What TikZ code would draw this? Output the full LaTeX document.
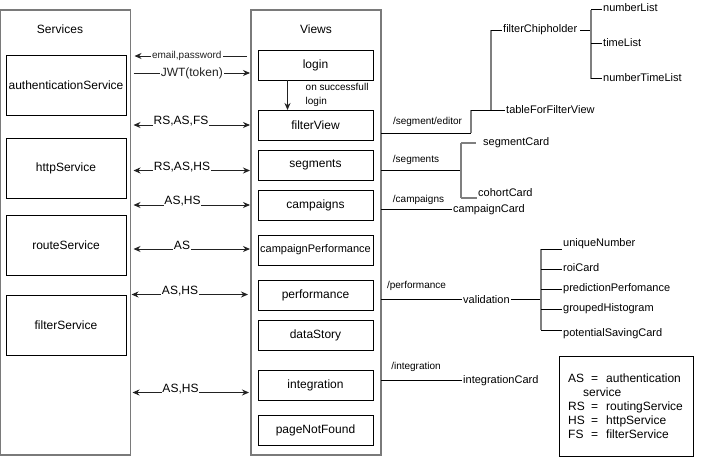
\documentclass[tikz,border=0pt]{standalone}
\usepackage{fontspec}
\setmainfont{Liberation Sans}
\usetikzlibrary{arrows.meta}
\newcommand\myfs[1]{\fontsize{#1}{#1}\selectfont}
\definecolor{outergray}{HTML}{7A7A7A}
\definecolor{treegray}{HTML}{7F7F7F}
\definecolor{arrgray}{HTML}{222222}
\begin{document}
\begin{tikzpicture}[x=1pt,y=-1pt,
  outerbox/.style={draw=outergray, line width=1.3pt, inner sep=0pt, outer sep=0pt},
  svcbox/.style={draw, line width=0.9pt, minimum width=120, minimum height=60, inner sep=0pt, outer sep=0pt, font=\myfs{12}},
  viewbox/.style={draw, line width=0.9pt, minimum width=115, minimum height=30, inner sep=0pt, outer sep=0pt, font=\myfs{12}},
  title/.style={font=\myfs{12}, inner sep=0pt},
  arr/.style={arrgray, line width=0.9pt, -{Stealth[length=7pt,width=6pt]}},
  darr/.style={arrgray, line width=0.9pt, {Stealth[length=7pt,width=6pt]}-{Stealth[length=7pt,width=6pt]}},
  elab/.style={font=\myfs{12}, fill=white, inner sep=1pt},
  slab/.style={font=\myfs{10}, fill=white, inner sep=1pt},
  rlab/.style={font=\myfs{10}, inner sep=1pt},
  leaf/.style={font=\myfs{11}, inner sep=1pt, anchor=west},
  hline/.style={black, line width=0.9pt},
  tree/.style={treegray, line width=1.5pt},
  legtxt/.style={font=\myfs{12}, inner sep=0pt, anchor=base west}
]
\useasboundingbox (0,0) rectangle (706,458);

% outer boxes
\node[outerbox, minimum width=130, minimum height=445] (services) at (65.5,232.5) {};
\node[title] (servicesT) at (60,29.5) {Services};
\node[outerbox, minimum width=130, minimum height=445] (views) at (316,232.5) {};
\node[title] (viewsT) at (316,29.5) {Views};

% services
\node[svcbox] (auth) at (66,85) {authenticationService};
\node[svcbox] (http) at (66,168) {httpService};
\node[svcbox] (route) at (66,245) {routeService};
\node[svcbox] (filter) at (66,325) {filterService};

% views
\node[viewbox] (login) at (315.5,65) {login};
\node[viewbox] (filterView) at (315.5,125) {filterView};
\node[viewbox] (segments) at (315.5,165) {segments};
\node[viewbox] (campaigns) at (315.5,205) {campaigns};
\node[viewbox, font=\myfs{11}] (campPerf) at (315.5,250) {campaignPerformance};
\node[viewbox] (performance) at (315.5,295) {performance};
\node[viewbox] (dataStory) at (315.5,335) {dataStory};
\node[viewbox] (integration) at (315.5,385) {integration};
\node[viewbox] (pageNotFound) at (315.5,430) {pageNotFound};

% service <-> view arrows
\draw[arr] ([xshift=-4]views.west |- 0,56) -- ([xshift=4]services.east |- 0,56)
  node[slab, pos=0.535] (lEmail) {email,password};
\draw[arr] ([xshift=3]services.east |- 0,73) -- ([xshift=-1]views.west |- 0,73)
  node[elab, pos=0.5] (lJWT) {JWT(token)};
\draw[darr] ([xshift=3]services.east |- 0,125) -- ([xshift=-1]views.west |- 0,125);
\node[elab, inner sep=0.5pt] (lRSASFS) at (181,121.5) {RS,AS,FS};
\draw[darr] ([xshift=3]services.east |- 0,170.5) -- ([xshift=-1]views.west |- 0,170.5);
\node[elab, inner sep=0.5pt] (lRSASHS) at (182,167) {RS,AS,HS};
\draw[darr] ([xshift=3]services.east |- 0,205) -- ([xshift=-1]views.west |- 0,205);
\node[elab, inner sep=0.5pt] (lASHS1) at (182.5,201.5) {AS,HS};
\draw[darr] ([xshift=3]services.east |- 0,249) -- ([xshift=-1]views.west |- 0,249);
\node[elab, inner sep=0.5pt] (lAS) at (182,245.5) {AS};
\draw[darr] ([xshift=1]services.east |- 0,294.5) -- ([xshift=-3]views.west |- 0,294.5);
\node[elab, inner sep=0.5pt] (lASHS2) at (180,291) {AS,HS};
\draw[darr] ([xshift=2]services.east |- 0,392.5) -- ([xshift=-2]views.west |- 0,392.5);
\node[elab, inner sep=0.5pt] (lASHS3) at (180.5,389.5) {AS,HS};

% login -> filterView
\draw[arr] (login.south -| 287.5,0) -- (filterView.north -| 287.5,0);
\node[rlab, anchor=north west, align=left, font={\fontsize{10}{13.5}\selectfont}] (lSucc) at (304.5,82.5) {on successfull\\login};

% /segment/editor branch
\coordinate (fvA) at (471,133);
\coordinate (fvB) at (471,110);
\coordinate (fcTop) at (491,30);
\coordinate (fcBot) at (491,110);
\draw[hline] (views.east |- fvA) -- (fvA);
\draw[tree] (fvA) -- (fvB);
\draw[hline] (fvB) -- (fcBot);
\node[rlab] (lSegEd) at (427.5,121.5) {/segment/editor};
\draw[tree] (fcTop) -- (fcBot);
\node[leaf] (filterChip) at (502,30) {filterChipholder};
\node[leaf] (tableFV) at (505,110) {tableForFilterView};
\draw[hline] (fcTop) -- (filterChip.west);
\draw[hline] (fcBot) -- (tableFV.west);
\coordinate (nlTop) at (591,9.5);
\coordinate (nlMid) at (591,43);
\coordinate (nlBot) at (591,78.5);
\draw[hline] (filterChip.east) ++(2,0) -- (nlTop |- filterChip.east);
\draw[tree] (nlTop) -- (nlBot);
\node[leaf] (numberList) at (602,8) {numberList};
\node[leaf] (timeList) at (602,43) {timeList};
\node[leaf] (numberTimeList) at (602,77.5) {numberTimeList};
\draw[hline] (nlTop) -- (numberList.west |- nlTop);
\draw[hline] (nlMid) -- (timeList.west |- nlMid);
\draw[hline] (nlBot) -- (numberTimeList.west |- nlBot);

% /segments branch
\coordinate (sgJ) at (461,170.5);
\coordinate (sgTop) at (461,143);
\coordinate (sgBot) at (461,198);
\draw[hline] (views.east |- sgJ) -- (sgJ);
\node[rlab] (lSegs) at (416,159.5) {/segments};
\draw[tree] (sgTop) -- (sgBot);
\node[leaf] (segmentCard) at (482,143) {segmentCard};
\node[leaf] (cohortCard) at (477,193) {cohortCard};
\draw[tree] (sgTop) -- ++(15,0);
\draw[tree] (sgBot) -- ++(16,0);

% /campaigns branch
\node[leaf] (campaignCard) at (452,209.5) {campaignCard};
\draw[hline] (views.east |- campaignCard.west) -- (campaignCard.west);
\node[rlab] (lCamps) at (418.5,200) {/campaigns};

% /performance branch
\node[leaf] (validation) at (462,299.3) {validation};
\draw[hline] (views.east |- validation.west) -- (validation.west);
\node[rlab] (lPerf) at (416.5,285.5) {/performance};
\coordinate (pfTop) at (541,249);
\coordinate (pfBot) at (541,330);
\draw[hline] (validation.east) -- (pfTop |- validation.east);
\draw[tree] (pfTop) -- (pfBot);
\node[leaf] (uniqueNumber) at (562,244) {uniqueNumber};
\node[leaf] (roiCard) at (562,268) {roiCard};
\node[leaf] (predPerf) at (562,289) {predictionPerfomance};
\node[leaf] (groupedHist) at (562,308.5) {groupedHistogram};
\node[leaf] (potSaving) at (562,333.5) {potentialSavingCard};
\draw[hline] (pfTop) -- (562,249);
\draw[hline] (541,269) -- (roiCard.west |- 0,269);
\draw[hline] (541,289) -- (predPerf.west |- 0,289);
\draw[hline] (541,309.5) -- (groupedHist.west |- 0,309.5);
\draw[hline] (pfBot) -- (potSaving.west |- pfBot);

% /integration branch
\node[leaf] (integrationCard) at (462,380.5) {integrationCard};
\draw[hline] (views.east |- integrationCard.west) -- (integrationCard.west);
\node[rlab] (lInt) at (416,366.5) {/integration};

% legend
\node[draw, line width=0.9pt, minimum width=134, minimum height=100, inner sep=0pt] (legend) at (626,406.5) {};
\node[legtxt] (leg1) at (568,382.5) {\makebox[23pt][l]{AS}\makebox[15pt][l]{=}authentication};
\node[legtxt] (leg2) at (583,396.5) {service};
\node[legtxt] (leg3) at (568,410.5) {\makebox[23pt][l]{RS}\makebox[15pt][l]{=}routingService};
\node[legtxt] (leg4) at (568,424.5) {\makebox[23pt][l]{HS}\makebox[15pt][l]{=}httpService};
\node[legtxt] (leg5) at (568,438.5) {\makebox[23pt][l]{FS}\makebox[15pt][l]{=}filterService};
\end{tikzpicture}
\end{document}
